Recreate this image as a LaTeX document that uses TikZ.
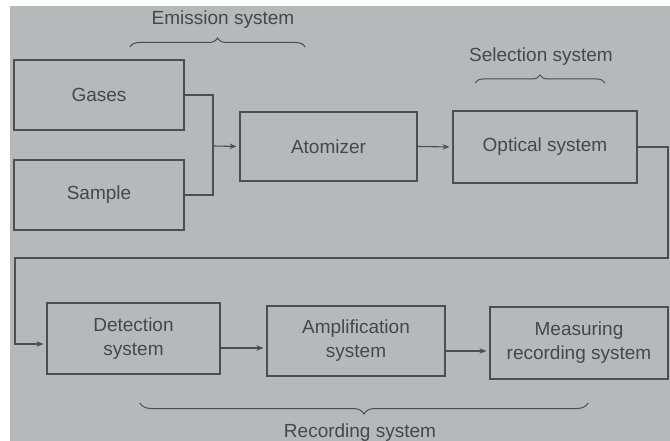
\documentclass[tikz,border=0pt]{standalone}
\usepackage{fontspec}
\setmainfont{Liberation Sans}
\usetikzlibrary{arrows.meta,decorations.pathreplacing}
\definecolor{bg}{HTML}{B6B9BA}
\definecolor{ink}{HTML}{4C4E50}
\definecolor{txt}{HTML}{46484A}
\begin{document}
\begin{tikzpicture}[x=1pt,y=-1pt,
  blk/.style={draw=ink,line width=1.1pt,inner sep=0pt,align=center,text=txt,
    font=\fontsize{19}{24}\selectfont},
  wire/.style={draw=ink,line width=1.1pt},
  arr/.style={wire,-{Stealth[length=7pt,width=5.5pt]},shorten >=3pt},
  brc/.style={draw=ink,line width=1pt,decorate},
  lbl/.style={text=txt,font=\fontsize{19}{24}\selectfont,inner sep=0pt}]
\useasboundingbox (0,0) rectangle (670,441);
\fill[white] (0,0) rectangle (670,441);
\fill[bg] (10,6) rectangle (670,441);
% blocks
\node[blk,minimum width=170pt,minimum height=70pt] (gas) at (99,95) {Gases};
\node[blk,minimum width=170pt,minimum height=70pt] (smp) at (99,195) {Sample};
\node[blk,minimum width=177pt,minimum height=69pt] (atm) at (328.5,146.5) {Atomizer};
\node[blk,minimum width=184pt,minimum height=72pt] (opt) at (545,147) {Optical system};
\node[blk,minimum width=173pt,minimum height=71pt] (det) at (133.5,338.5) {Detection\\system};
\node[blk,minimum width=178pt,minimum height=70pt] (amp) at (356,341) {Amplification\\system};
\node[blk,minimum width=178pt,minimum height=72pt] (mea) at (579,343) {Measuring\\recording system};
% connectors
\coordinate (jn) at (213,146);
\draw[wire] (gas.east) -| (jn) |- (smp.east);
\draw[arr] (jn) -- (atm.west);
\draw[arr] (atm.east) -- (opt.west);
\coordinate (c1) at (668,258);
\coordinate (c2) at (15,258);
\draw[arr] (opt.east) -| (c1) -- (c2) |- ([yshift=-5.5pt]det.west);
\coordinate (h1) at (0,348);
\coordinate (h2) at (0,351);
\draw[arr] (det.east |- h1) -- (amp.west |- h1);
\draw[arr] (amp.east |- h2) -- (mea.west |- h2);
% braces
\coordinate (e1) at (130,47); \coordinate (e2) at (305,47);
\draw[brc,decoration={brace,amplitude=9pt}] (e1) -- (e2);
\node[lbl] (el) at (223,20) {Emission system};
\coordinate (s1) at (475,83); \coordinate (s2) at (605,83);
\draw[brc,decoration={brace,amplitude=8pt}] (s1) -- (s2);
\node[lbl] (sl) at (541,57) {Selection system};
\coordinate (r1) at (588,403); \coordinate (r2) at (140,403);
\draw[brc,decoration={brace,amplitude=11pt}] (r1) -- (r2);
\node[lbl] (rl) at (360,433) {Recording system};
\end{tikzpicture}
\end{document}
